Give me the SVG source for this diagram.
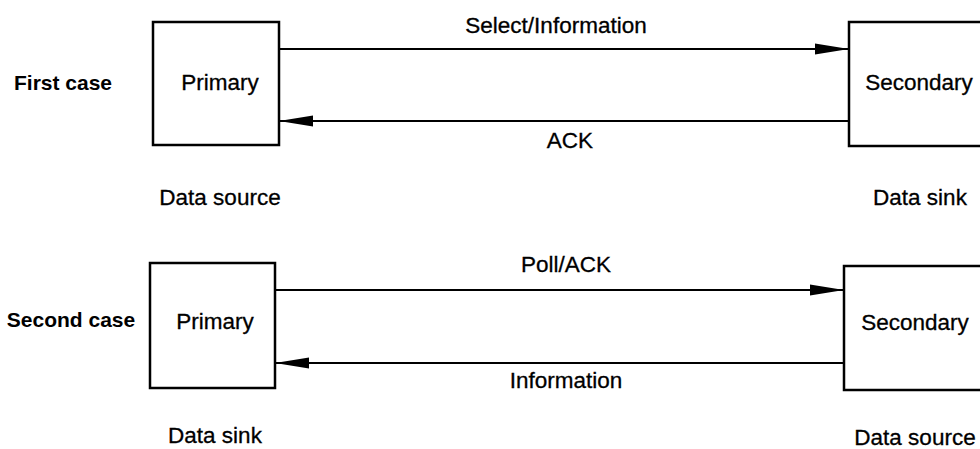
<svg xmlns="http://www.w3.org/2000/svg" width="980" height="449" viewBox="0 0 980 449">
<defs>
<style>
.box{fill:#fff;stroke:#000;stroke-width:2.5}
.ln{stroke:#000;stroke-width:2.2;fill:none}
.t{font-family:"Liberation Sans",Arial,sans-serif;font-size:22.5px;fill:#000;stroke:#000;stroke-width:0.3;text-anchor:middle}
.b{font-family:"Liberation Sans",Arial,sans-serif;font-size:21px;font-weight:bold;fill:#000;text-anchor:middle}
</style>
<marker id="ah" viewBox="0 0 34 12" refX="34" refY="6" markerWidth="34" markerHeight="12" markerUnits="userSpaceOnUse" orient="auto">
<path d="M0,0.5 L34,6 L0,11.5 Z" fill="#000"/>
</marker>
</defs>
<rect width="980" height="449" fill="#fff"/>
<text class="b" x="63" y="90">First case</text>
<text class="b" x="71" y="327">Second case</text>
<g id="primary1">
<rect class="box" x="153" y="22" width="126" height="123"/>
<text class="t" x="220" y="90">Primary</text>
<text class="t" x="220" y="205">Data source</text>
</g>
<g id="secondary1">
<rect class="box" x="849" y="22" width="150" height="124"/>
<text class="t" x="919" y="90">Secondary</text>
<text class="t" x="920" y="205">Data sink</text>
</g>
<g id="primary2">
<rect class="box" x="150" y="263" width="125" height="125"/>
<text class="t" x="215" y="329">Primary</text>
<text class="t" x="215" y="443">Data sink</text>
</g>
<g id="secondary2">
<rect class="box" x="844" y="266" width="150" height="124"/>
<text class="t" x="915" y="330">Secondary</text>
<text class="t" x="915" y="445">Data source</text>
</g>
<g id="connectors">
<line class="ln" x1="279" y1="49" x2="849" y2="49" marker-end="url(#ah)"/>
<line class="ln" x1="849" y1="121" x2="279" y2="121" marker-end="url(#ah)"/>
<line class="ln" x1="275" y1="290" x2="844" y2="290" marker-end="url(#ah)"/>
<line class="ln" x1="844" y1="363" x2="275" y2="363" marker-end="url(#ah)"/>
<text class="t" x="556" y="33">Select/Information</text>
<text class="t" x="570" y="148">ACK</text>
<text class="t" x="566" y="272">Poll/ACK</text>
<text class="t" x="566" y="388">Information</text>
</g>
</svg>
